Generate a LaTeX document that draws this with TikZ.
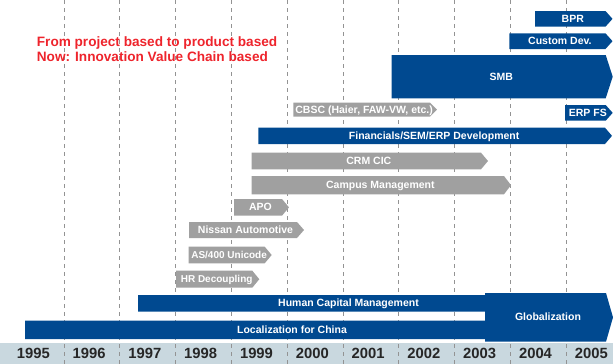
\documentclass[tikz,border=0pt]{standalone}
\usepackage{fontspec}
\setmainfont{Liberation Sans}
\usepackage{xcolor}
\definecolor{sapblue}{RGB}{0,73,144}
\definecolor{bargray}{RGB}{160,160,160}
\definecolor{yearband}{RGB}{201,216,223}
\definecolor{notered}{RGB}{238,36,44}

\begin{document}
\begin{tikzpicture}[x=1pt,y=-1pt]
   \tikzset{barlabel/.style={text=white,inner sep=0pt,text height=.72em,text depth=0pt,font=\bfseries\fontsize{#1}{12}\selectfont}}
   \tikzset{yearlabel/.style={text=black!85,inner sep=0pt,text height=10.4pt,text depth=0pt,font=\bfseries\fontsize{14.8}{16}\selectfont}}
   \tikzset{gridline/.style={gray!85,line width=.8pt,dash pattern=on 3.5pt off 4.5pt}}
   \tikzset{motto/.style={anchor=base west,inner sep=0pt,text=notered,font=\bfseries\fontsize{13.6}{15.3}\selectfont}}
   \useasboundingbox (0,0) rectangle (613,364);
   \fill[yearband] (0,343) rectangle (613,364);
   \foreach \i in {0,...,9}
      \draw[gridline] (64+55.8*\i,0) -- (64+55.8*\i,364);
   \foreach \i in {0,...,10}{
      \pgfmathtruncatemacro\yr{1995+\i}
      \node[yearlabel] (y\yr) at (33.3+55.8*\i,353.5) {\yr};
   }
   \foreach \n/\xa/\xb/\ya/\yb/\c/\s/\txt in {
      bpr/535/612.5/11/26.7/sapblue/10.5/BPR,
      custom/509.3/612.5/33.3/49/sapblue/10.5/Custom Dev.,
      smb/391.7/612.7/55/98.3/sapblue/10.5/SMB,
      cbsc/293.3/437/102.7/116.7/bargray/10.5/{CBSC (Haier, FAW-VW, etc.)},
      erpfs/565/612.7/105/120.7/sapblue/10.5/ERP FS,
      fin/258.3/612/127.7/144/sapblue/10.5/{Financials/SEM/ERP Development},
      crm/251.7/488/152.7/169.3/bargray/10.5/CRM CIC,
      campus/251.7/511/176/194.3/bargray/10.5/Campus Management,
      apo/234/289/199/215.7/bargray/10.5/APO,
      nissan/189/304/222/238/bargray/10.5/Nissan Automotive,
      as400/188.5/271.7/246.7/263.3/bargray/10/{AS/400 Unicode},
      hr/176/259.3/270.7/287.7/bargray/10/HR Decoupling,
      hcm/138/561/295/311.7/sapblue/10.5/Human Capital Management,
      local/25/561/320.7/339/sapblue/10.5/Localization for China,
      global/485/613/293/341.7/sapblue/10.5/Globalization}
   {
      \fill[\c] (\xa,\ya) -- (\xb-7,\ya) -- (\xb,{(\ya+\yb)/2}) -- (\xb-7,\yb) -- (\xa,\yb) -- cycle;
      \node[barlabel=\s] (\n) at ({(\xa+\xb)/2-1},{(\ya+\yb)/2}) {\txt};
   }
   \node[motto] (motto1) at (36.7,46) {From project based to product based};
   \node[motto] (motto2) at (36.7,61.3) {Now: Innovation Value Chain based};
\end{tikzpicture}
\end{document}
